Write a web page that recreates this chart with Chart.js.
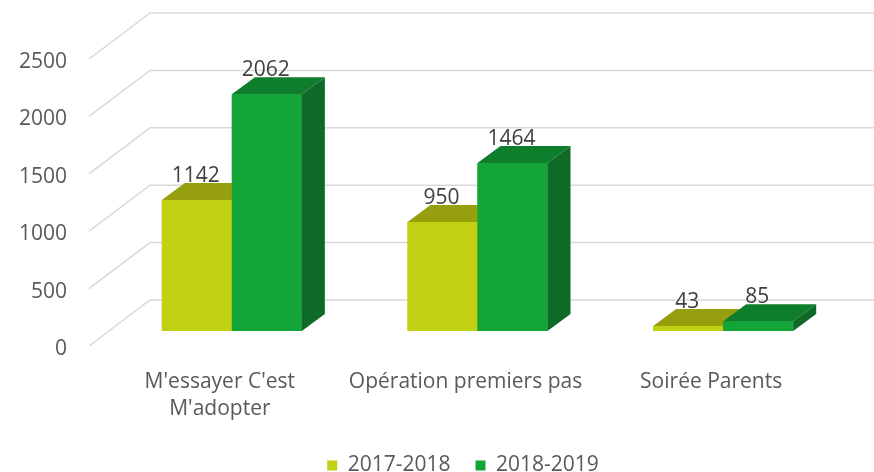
<!DOCTYPE html>
<html>
<head>
<meta charset="utf-8">
<script src="https://cdn.jsdelivr.net/npm/chart.js@4.4.1/dist/chart.umd.min.js"></script>
<style>
  html, body { margin: 0; padding: 0; background: #fff; overflow: hidden; }
  #wrap { width: 874px; height: 486px; }
</style>
</head>
<body>
<div id="wrap"><canvas id="chart" width="874" height="486"></canvas></div>
<script>
// data
const categories = [["M'essayer C'est", "M'adopter"], "Opération premiers pas", "Soirée Parents"];
const seriesNames = ["2017-2018", "2018-2019"];
const values2017 = [1142, 950, 43];
const values2018 = [2062, 1464, 85];
const yTicks = [0, 500, 1000, 1500, 2000, 2500];

// 3d look
const DX = 23, DY = 17;
const FONT = "'Open Sans', 'Liberation Sans', sans-serif";
const faces = [
    { front: "#c2d014", top: "#96a00f", side: "#87900c" },
    { front: "#13a538", top: "#0f7e2c", side: "#0e6a26" }
];

Chart.defaults.font.family = FONT;
Chart.defaults.color = "#595959";

const bar3d = {
    id: "bar3d",
    afterLayout(chart) {
        // legend sits centred under the plot, not under the whole canvas
        chart.legend.left += 40;
        chart.legend.right += 40;
    },
    beforeDatasetsDraw(chart) {
        const { ctx, chartArea, scales: { y } } = chart;
        ctx.save();
        ctx.strokeStyle = "#d9d9d9";
        ctx.lineWidth = 1.5;
        y.ticks.forEach(t => {
            const py = y.getPixelForValue(t.value);
            ctx.beginPath();
            ctx.moveTo(chartArea.left - 20, py + 15);
            ctx.lineTo(chartArea.left + 41, py - 31);
            ctx.lineTo(chart.width, py - 31);
            ctx.stroke();
        });
        ctx.restore();
    },
    afterDatasetsDraw(chart) {
        const { ctx } = chart;
        ctx.save();
        // redraw series in index order so the second one sits over the first one's top
        chart.data.datasets.forEach((ds, i) => {
            const c = faces[i];
            chart.getDatasetMeta(i).data.forEach(bar => {
                bar.draw(ctx);
                const { x, y, base, width } = bar.getProps(["x", "y", "base", "width"], true);
                const l = x - width / 2, r = x + width / 2;
                // top
                ctx.fillStyle = c.top;
                ctx.beginPath();
                ctx.moveTo(l, y);
                ctx.lineTo(r, y);
                ctx.lineTo(r + DX, y - DY);
                ctx.lineTo(l + DX, y - DY);
                ctx.closePath();
                ctx.fill();
                // side
                ctx.fillStyle = c.side;
                ctx.beginPath();
                ctx.moveTo(r, y);
                ctx.lineTo(r + DX, y - DY);
                ctx.lineTo(r + DX, base - DY);
                ctx.lineTo(r, base);
                ctx.closePath();
                ctx.fill();
            });
        });
        // value labels
        ctx.font = "21px " + FONT;
        ctx.fillStyle = "#404040";
        ctx.textAlign = "center";
        ctx.textBaseline = "alphabetic";
        chart.data.datasets.forEach((ds, i) => {
            chart.getDatasetMeta(i).data.forEach((bar, j) => {
                const { x, y } = bar.getProps(["x", "y"], true);
                ctx.fillText(String(ds.data[j]), x - 1, y - DY - 1);
            });
        });
        ctx.restore();
    }
};

new Chart(document.getElementById("chart"), {
    type: "bar",
    data: {
        labels: categories,
        datasets: [
            { label: seriesNames[0], data: values2017, backgroundColor: faces[0].front, borderWidth: 0 },
            { label: seriesNames[1], data: values2018, backgroundColor: faces[1].front, borderWidth: 0 }
        ]
    },
    options: {
        responsive: false,
        animation: false,
        layout: { padding: { top: 44, right: 28, left: 0, bottom: 0 } },
        datasets: { bar: { categoryPercentage: 0.57, barPercentage: 1 } },
        plugins: {
            tooltip: { enabled: false },
            legend: {
                position: "bottom",
                labels: {
                    boxWidth: 10,
                    boxHeight: 10,
                    padding: 25,
                    font: { size: 21 },
                    color: "#595959"
                }
            }
        },
        scales: {
            x: {
                grid: { display: false, drawTicks: false },
                border: { display: false },
                ticks: { padding: 37, labelOffset: -12, font: { size: 21, lineHeight: 1.3 }, color: "#595959", maxRotation: 0 },
                afterFit: s => { s.height = 99; s.paddingLeft = 0; s.paddingRight = 0; }
            },
            y: {
                min: 0,
                max: 2500,
                afterBuildTicks: s => { s.ticks = yTicks.map(v => ({ value: v })); },
                grid: { display: false, drawTicks: false },
                border: { display: false },
                ticks: { padding: 42, labelOffset: 18, font: { size: 21 }, color: "#595959", callback: v => String(v) },
                afterFit: s => { s.width = 109; s.paddingTop = 0; s.paddingBottom = 0; }
            }
        }
    },
    plugins: [bar3d]
});
</script>
</body>
</html>
